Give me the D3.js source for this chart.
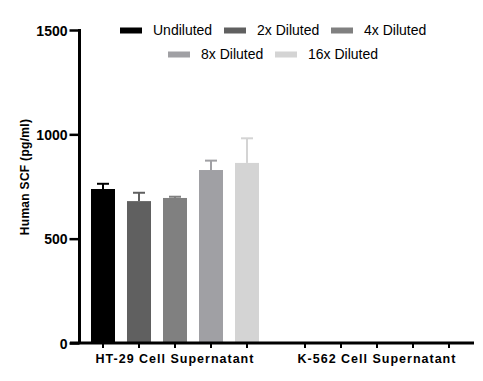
<!DOCTYPE html>
<html>
<head>
<meta charset="utf-8">
<script src="https://cdn.jsdelivr.net/npm/d3@7/dist/d3.min.js"></script>
<style>
html,body{margin:0;padding:0;background:#fff;}
svg text{font-family:"Liberation Sans",Arial,sans-serif;}
</style>
</head>
<body>
<svg id="chart" width="483" height="381"></svg>
<script>
const groups = ["HT-29 Cell Supernatant", "K-562 Cell Supernatant"];
const series = ["Undiluted", "2x Diluted", "4x Diluted", "8x Diluted", "16x Diluted"];
const colors = ["#000000", "#606060", "#808080", "#a0a0a4", "#d4d4d4"];
// mean values per series for each group (K-562: not detected)
const means = [
  [738, 0],
  [680, 0],
  [695, 0],
  [829, 0],
  [863, 0]
];
// upper error (SD) per series for each group
const errors = [
  [25, 0],
  [40, 0],
  [6, 0],
  [45, 0],
  [118, 0]
];
const yTicks = [0, 500, 1000, 1500];

const svg = d3.select("#chart");
const y = d3.scaleLinear().domain([0, 1500]).range([343, 30]);
const x0 = d3.scaleBand().domain(groups).range([74, 478]).padding(0);
const x1 = d3.scaleBand().domain(series).range([0, x0.bandwidth()]).paddingInner(1/3).paddingOuter(0.472);

const data = [];
groups.forEach((g, gi) => series.forEach((s, si) => {
  data.push({g, s, si, v: means[si][gi], e: errors[si][gi]});
}));
const cx = d => x0(d.g) + x1(d.s) + x1.bandwidth()/2;

// bars
svg.append("g").selectAll("rect").data(data.filter(d => d.v > 0)).join("rect")
  .attr("x", d => x0(d.g) + x1(d.s))
  .attr("y", d => y(d.v))
  .attr("width", x1.bandwidth())
  .attr("height", d => y(0) - y(d.v))
  .attr("fill", d => colors[d.si]);

// error bars
const eg = svg.append("g").selectAll("g").data(data.filter(d => d.v > 0)).join("g");
eg.append("line")
  .attr("x1", cx).attr("x2", cx)
  .attr("y1", d => y(d.v))
  .attr("y2", d => y(d.v + d.e))
  .attr("stroke", d => colors[d.si]).attr("stroke-width", 2);
eg.append("line")
  .attr("x1", d => cx(d) - 6)
  .attr("x2", d => cx(d) + 6)
  .attr("y1", d => y(d.v + d.e))
  .attr("y2", d => y(d.v + d.e))
  .attr("stroke", d => colors[d.si]).attr("stroke-width", 2);

// y axis
const yAxis = svg.append("g").attr("transform", "translate(79.5,0)")
  .call(d3.axisLeft(y).tickValues(yTicks).tickSize(10).tickPadding(2).tickFormat(d3.format("d")));
yAxis.select(".domain").attr("stroke", "#000").attr("stroke-width", 3).attr("d", `M0,${y(1500)-1}V${y(0)}`);
yAxis.selectAll(".tick line").attr("stroke", "#000").attr("stroke-width", 2.5);
yAxis.selectAll(".tick text").attr("fill", "#000").attr("font-size", 14).attr("font-weight", "bold").attr("dy", "0.36em");

// x axis
const xAxisG = svg.append("g").attr("transform", `translate(0,${y(0)})`);
xAxisG.append("line").attr("x1", 70).attr("x2", 474).attr("y1", 0).attr("y2", 0)
  .attr("stroke", "#000").attr("stroke-width", 3);
xAxisG.selectAll("line.t").data(data).join("line").attr("class", "t")
  .attr("x1", cx).attr("x2", cx)
  .attr("y1", 0).attr("y2", 5)
  .attr("stroke", "#000").attr("stroke-width", 2);
xAxisG.selectAll("text").data(groups).join("text")
  .attr("x", d => x0(d) + x0.bandwidth()/2)
  .attr("y", 20)
  .attr("text-anchor", "middle")
  .attr("font-size", 12.5).attr("font-weight", "bold")
  .attr("letter-spacing", 1)
  .text(d => d);

// y label
svg.append("text")
  .attr("transform", "translate(29,177) rotate(-90)")
  .attr("text-anchor", "middle")
  .attr("font-size", 12).attr("font-weight", "bold")
  .attr("letter-spacing", 0.3)
  .text("Human SCF (pg/ml)");

// legend
const legendPos = [[120, 30.5], [224, 30.5], [331, 30.5], [168, 54.5], [275, 54.5]];
const lg = svg.append("g").selectAll("g").data(series).join("g")
  .attr("transform", (d, i) => `translate(${legendPos[i][0]},${legendPos[i][1]})`);
lg.append("rect").attr("x", 0).attr("y", -3).attr("width", 22).attr("height", 6)
  .attr("fill", (d, i) => colors[i]);
lg.append("text").attr("x", 33).attr("y", 0).attr("dy", "0.35em")
  .attr("font-size", 14).attr("fill", "#000").text(d => d);
</script>
</body>
</html>
